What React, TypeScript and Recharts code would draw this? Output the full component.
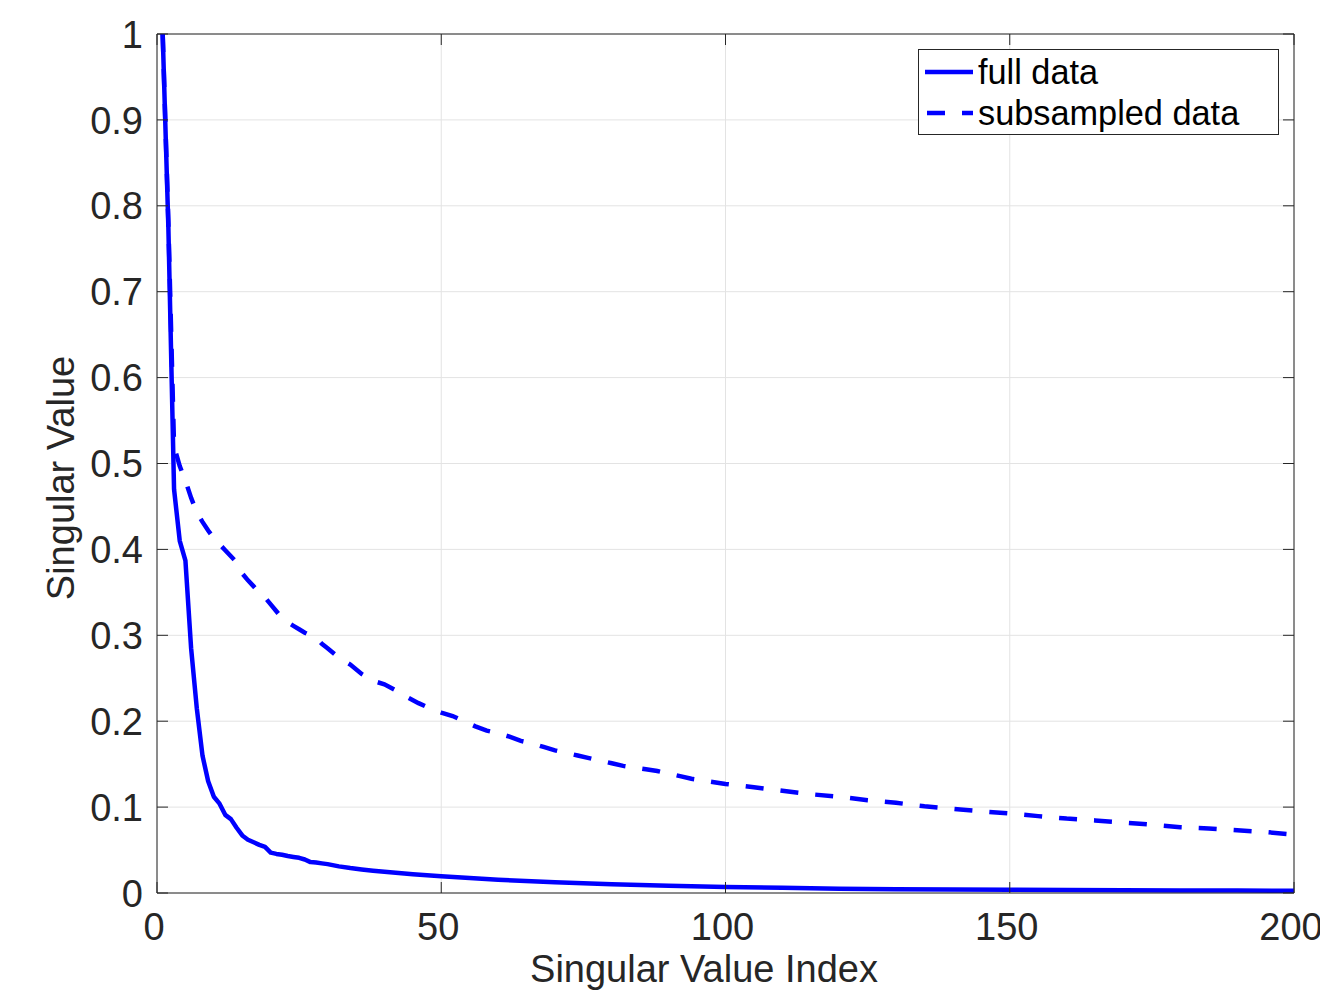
import React from "react";
import { LineChart, Line, XAxis, YAxis, CartesianGrid, ReferenceLine, Legend, Label } from "recharts";

const fullIdx = [1, 2, 3, 4, 5, 6, 7, 8, 9, 10, 11, 12, 13, 14, 15, 16, 17, 18, 19, 20, 21, 22, 23, 24, 25, 26, 27, 28, 29, 30,
  32, 34, 36, 38, 40, 45, 50, 55, 60, 70, 80, 90, 100, 110, 120, 130, 140, 150, 160, 170, 180, 190, 200];
const fullVal = [1.0, 0.775, 0.47, 0.41, 0.387, 0.285, 0.215, 0.16, 0.13, 0.112, 0.104, 0.091, 0.086, 0.076, 0.067, 0.062, 0.059, 0.056, 0.0536, 0.047,
  0.0455, 0.0445, 0.043, 0.042, 0.041, 0.039, 0.036, 0.0355, 0.0345, 0.0336,
  0.031, 0.029, 0.0274, 0.026, 0.0247, 0.0218, 0.0196, 0.0175, 0.0155, 0.0125, 0.0101, 0.0085, 0.007, 0.006, 0.005, 0.0044, 0.004, 0.0037, 0.0034, 0.0032, 0.003, 0.0028, 0.0026];

const subIdx = [1, 2, 3, 4, 5, 6, 7, 8, 9, 10, 11, 12, 13, 14, 15, 16, 17, 18, 19, 20, 21, 22, 23, 24, 25, 26, 27, 28, 29, 30,
  32, 34, 36, 38, 40, 42, 44, 46, 48, 50,
  52, 54, 56, 58, 60, 62, 64, 66, 68, 70, 72, 74, 76, 78, 80, 82, 84, 86, 88, 90, 92, 94, 96, 98, 100,
  105, 110, 115, 120, 125, 130, 135, 140, 145, 150, 155, 160, 165, 170, 175, 180, 185, 190, 195, 200];
const subVal = [1.0, 0.78, 0.52, 0.497, 0.48, 0.46, 0.443, 0.432, 0.422, 0.413, 0.406, 0.399, 0.392, 0.385, 0.372, 0.364, 0.357, 0.349, 0.344, 0.336,
  0.328, 0.32, 0.315, 0.311, 0.307, 0.303, 0.3, 0.297, 0.29, 0.285,
  0.274, 0.266, 0.255, 0.247, 0.243, 0.236, 0.228, 0.221, 0.215, 0.21,
  0.206, 0.2, 0.194, 0.189, 0.186, 0.182, 0.177, 0.174, 0.17, 0.166, 0.163, 0.16, 0.157, 0.154, 0.151, 0.148, 0.146, 0.144, 0.142, 0.139, 0.136, 0.133, 0.131, 0.129, 0.127,
  0.123, 0.119, 0.115, 0.112, 0.108, 0.105, 0.101, 0.098, 0.095, 0.0925, 0.0895, 0.0866, 0.0845, 0.082, 0.0795, 0.0765, 0.075, 0.073, 0.071, 0.068];

const xTicks = [0, 50, 100, 150, 200];
const yTicks = [0, 0.1, 0.2, 0.3, 0.4, 0.5, 0.6, 0.7, 0.8, 0.9, 1];
const seriesNames = ["full data", "subsampled data"];

const fullData = fullIdx.map((i, k) => ({ i, v: fullVal[k] }));
const subData = subIdx.map((i, k) => ({ i, v: subVal[k] }));

const W = 1320;
const H = 983;
const M = { top: 26, right: 34, left: 0, bottom: 0 };
const YW = 149;
const XH = 98;
const PLOT_W = W - M.left - M.right - YW;
const PLOT_H = H - M.top - M.bottom - XH;
const TICK = 11;
const AX = "#262626";
const BLUE = "#0000ff";
const FONT = "'Liberation Sans', Arial, Helvetica, sans-serif";
const FS = 38;
const LFS = 34.3;

const fmtY = (v: number) => (v === 0 ? "0" : v === 1 ? "1" : v.toFixed(1));

const YTick = (props: any) => {
  const { x, y, payload } = props;
  return (
    <g>
      <line x1={x} x2={x + TICK} y1={y} y2={y} stroke={AX} strokeWidth={1} />
      <line x1={x + PLOT_W} x2={x + PLOT_W - TICK} y1={y} y2={y} stroke={AX} strokeWidth={1} />
      <text x={x - 14} y={y} dy="0.36em" textAnchor="end" fill={AX} fontFamily={FONT} fontSize={FS}>
        {fmtY(payload.value)}
      </text>
    </g>
  );
};

const XTick = (props: any) => {
  const { x, y, payload } = props;
  return (
    <g>
      <line x1={x} x2={x} y1={y} y2={y - TICK} stroke={AX} strokeWidth={1} />
      <line x1={x} x2={x} y1={y - PLOT_H} y2={y - PLOT_H + TICK} stroke={AX} strokeWidth={1} />
      <text x={x - 3} y={y + 47} textAnchor="middle" fill={AX} fontFamily={FONT} fontSize={FS}>
        {payload.value}
      </text>
    </g>
  );
};

const XLabel = (props: any) => {
  const { x, y, width } = props.viewBox;
  return (
    <text x={x + width / 2 - 21.5} y={y + 89} textAnchor="middle" fill={AX} fontFamily={FONT} fontSize={FS}>
      Singular Value Index
    </text>
  );
};

const YLabel = (props: any) => {
  const { x, y, height } = props.viewBox;
  const cx = x + 66;
  const cy = y + height / 2 + 14.5;
  return (
    <text x={cx} y={cy} transform={`rotate(-90 ${cx} ${cy})`} textAnchor="middle" fill={AX} fontFamily={FONT} fontSize={FS}>
      Singular Value
    </text>
  );
};

const LegendBox = () => (
  <svg width={361} height={86} style={{ display: "block" }}>
    <rect x={0.5} y={0.5} width={360} height={85} fill="#ffffff" stroke={AX} strokeWidth={1} />
    <line x1={7} x2={55} y1={23} y2={23} stroke={BLUE} strokeWidth={4.5} />
    <text x={60} y={23} dy="0.36em" fill="#000" fontFamily={FONT} fontSize={LFS}>{seriesNames[0]}</text>
    <line x1={9} x2={55} y1={64} y2={64} stroke={BLUE} strokeWidth={4.5} strokeDasharray="18 17" />
    <text x={60} y={64} dy="0.36em" fill="#000" fontFamily={FONT} fontSize={LFS}>{seriesNames[1]}</text>
  </svg>
);

export default function App() {
  return (
    <div style={{ width: W, height: H, position: "relative" }}>
      <LineChart width={W} height={H} margin={M}>
        <CartesianGrid stroke="#e3e3e3" strokeWidth={1} />
        <XAxis
          dataKey="i"
          type="number"
          domain={[0, 200]}
          ticks={xTicks}
          interval={0}
          height={XH}
          tickSize={0}
          tickMargin={0}
          tickLine={false}
          axisLine={{ stroke: AX, strokeWidth: 1 }}
          tick={<XTick />}
          allowDuplicatedCategory={false}
        >
          <Label content={<XLabel />} />
        </XAxis>
        <YAxis
          type="number"
          domain={[0, 1]}
          ticks={yTicks}
          interval={0}
          width={YW}
          tickSize={0}
          tickMargin={0}
          tickLine={false}
          axisLine={{ stroke: AX, strokeWidth: 1 }}
          tick={<YTick />}
        >
          <Label content={<YLabel />} />
        </YAxis>
        <ReferenceLine x={200} stroke={AX} strokeWidth={1} />
        <ReferenceLine y={1} stroke={AX} strokeWidth={1} />
        <Line
          data={subData}
          dataKey="v"
          name={seriesNames[1]}
          type="linear"
          stroke={BLUE}
          strokeWidth={4.5}
          strokeDasharray="18 17"
          dot={false}
          activeDot={false}
          isAnimationActive={false}
        />
        <Line
          data={fullData}
          dataKey="v"
          name={seriesNames[0]}
          type="linear"
          stroke={BLUE}
          strokeWidth={4.5}
          strokeLinejoin="round"
          dot={false}
          activeDot={false}
          isAnimationActive={false}
        />
        <Legend
          layout="vertical"
          align="center"
          verticalAlign="middle"
          content={<LegendBox />}
          wrapperStyle={{ position: "absolute", top: 41, left: 910, width: 361, height: 86 }}
        />
      </LineChart>
    </div>
  );
}
